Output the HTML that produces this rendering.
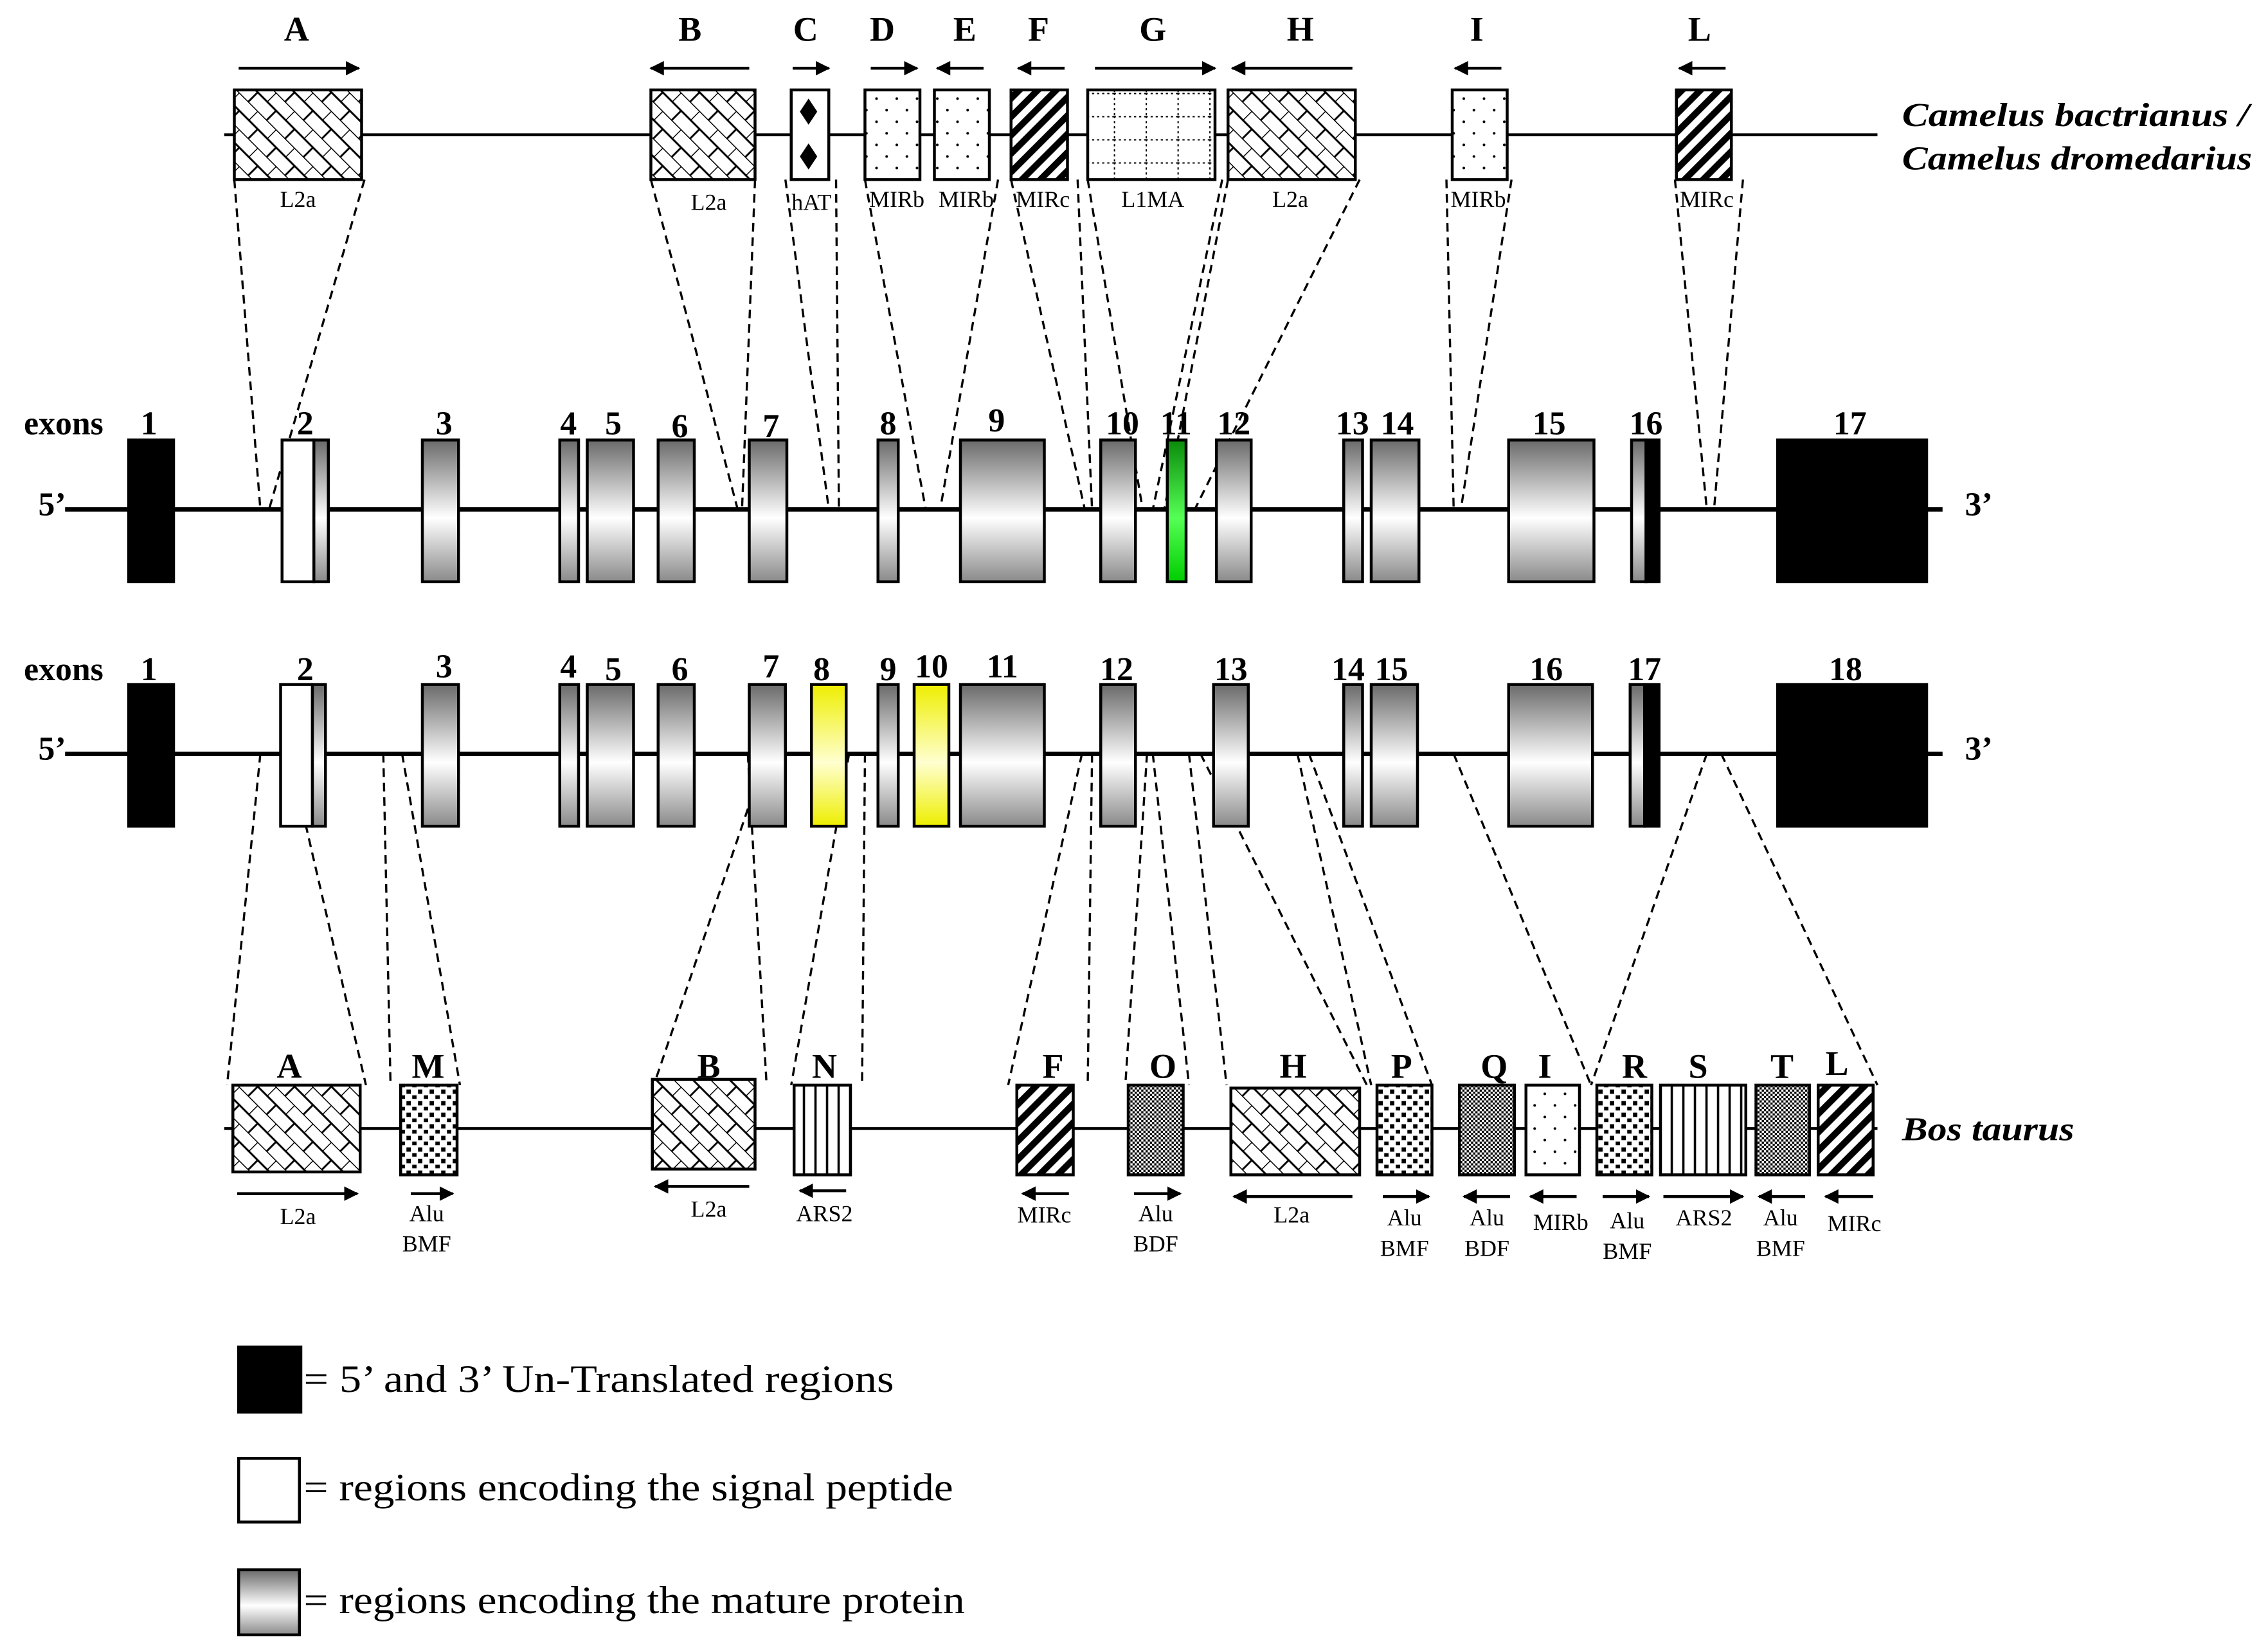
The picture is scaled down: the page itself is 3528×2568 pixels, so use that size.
<!DOCTYPE html>
<html><head><meta charset="utf-8"><style>html,body{margin:0;padding:0;background:#fff}svg{display:block}</style></head>
<body>
<svg width="3528" height="2568" viewBox="0 0 1568 1141" xmlns="http://www.w3.org/2000/svg" font-family="Liberation Serif, serif">
<defs>
<linearGradient id="gr" x1="0" y1="0" x2="0" y2="1"><stop offset="0" stop-color="#6a6a6a"/><stop offset="0.55" stop-color="#fff"/><stop offset="1" stop-color="#8a8a8a"/></linearGradient>
<linearGradient id="gg" x1="0" y1="0" x2="0" y2="1"><stop offset="0" stop-color="#0a8a0a"/><stop offset="0.55" stop-color="#5f5"/><stop offset="1" stop-color="#0c0"/></linearGradient>
<linearGradient id="gy" x1="0" y1="0" x2="0" y2="1"><stop offset="0" stop-color="#ee0"/><stop offset="0.55" stop-color="#ffffd0"/><stop offset="1" stop-color="#ee0"/></linearGradient>
<pattern id="brick" width="18" height="18" patternUnits="userSpaceOnUse" patternTransform="rotate(45)"><rect width="18" height="18" fill="#fff"/><path d="M0 0H18M0 9H18M0 0V9M9 9V18" stroke="#000" stroke-width="1.3" fill="none"/></pattern>
<pattern id="stripe" width="9" height="9" patternUnits="userSpaceOnUse" patternTransform="rotate(45)"><rect width="9" height="9" fill="#fff"/><rect width="4.5" height="9" fill="#000"/></pattern>
<pattern id="sdots" width="14" height="16" patternUnits="userSpaceOnUse"><rect width="14" height="16" fill="#fff"/><circle cx="4" cy="4" r="0.9"/><circle cx="11" cy="12" r="0.9"/></pattern>
<pattern id="ddots" width="8" height="8" patternUnits="userSpaceOnUse"><rect width="8" height="8" fill="#fff"/><rect x="1" y="1" width="3" height="3"/><rect x="5" y="5" width="3" height="2.5"/></pattern>
<pattern id="check" width="3" height="3" patternUnits="userSpaceOnUse"><rect width="3" height="3" fill="#fff"/><rect width="1.5" height="1.5" fill="#000"/><rect x="1.5" y="1.5" width="1.5" height="1.5" fill="#000"/></pattern>
<pattern id="vline" width="8" height="10" patternUnits="userSpaceOnUse"><rect width="8" height="10" fill="#fff"/><rect x="3" width="1.6" height="10" fill="#000"/></pattern>
<pattern id="grid" width="22" height="16" patternUnits="userSpaceOnUse"><rect width="22" height="16" fill="#fff"/><path d="M0 0.5H22M0.5 0V16" stroke="#000" stroke-width="0.9" stroke-dasharray="1.5 2" fill="none"/></pattern>
<pattern id="hat" width="26" height="31" patternUnits="userSpaceOnUse"><rect width="26" height="31" fill="#fff"/><path d="M13 6 L19 15 L13 24 L7 15Z" fill="#000"/></pattern>
<marker id="ah" markerWidth="10" markerHeight="10" refX="9" refY="5" orient="auto" markerUnits="userSpaceOnUse"><path d="M0 0 L10 5 L0 10 Z" fill="#000"/></marker>
</defs>
<g stroke="#000" fill="none" stroke-width="2">
<line x1="155" y1="93" x2="1298" y2="93"/>
<line x1="45" y1="352" x2="1343" y2="352" stroke-width="3"/>
<line x1="45" y1="521" x2="1343" y2="521" stroke-width="3"/>
<line x1="155" y1="780" x2="1298" y2="780"/>
</g>
<g stroke="#000" stroke-width="1.5" stroke-dasharray="6 4" fill="none">
<path d="M162 124L180 352M252 124L186 352"/>
<path d="M450 124L510 352M522 124L513 352"/>
<path d="M543 124L573 352M578 124L580 352"/>
<path d="M598 124L640 352M690 124L650 352"/>
<path d="M699 124L750 352M745 124L755 352"/>
<path d="M752 124L790 352M845 124L797 352"/>
<path d="M849 124L805 352M940 124L826 352"/>
<path d="M1000 124L1005 352M1045 124L1010 352"/>
<path d="M1158 124L1180 352M1205 124L1185 352"/>
<path d="M180 521L157 750M200 521L253 750"/>
<path d="M265 521L270 750M278 521L318 750"/>
<path d="M530 521L452 750M517 521L530 750"/>
<path d="M587 521L547 750M598 521L596 750"/>
<path d="M748 521L697 750M755 521L752 750"/>
<path d="M793 521L778 750M797 521L822 750"/>
<path d="M822 521L848 750M830 521L945 750"/>
<path d="M897 521L948 750M905 521L990 750"/>
<path d="M1005 521L1100 750"/>
<path d="M1180 521L1100 750M1190 521L1298 750"/>
</g>
<g stroke="#000" stroke-width="2">
<rect x="162" y="62" width="88" height="62" fill="url(#brick)"/>
<rect x="450" y="62" width="72" height="62" fill="url(#brick)"/>
<rect x="547" y="62" width="26" height="62" fill="url(#hat)"/>
<rect x="598" y="62" width="38" height="62" fill="url(#sdots)"/>
<rect x="646" y="62" width="38" height="62" fill="url(#sdots)"/>
<rect x="699" y="62" width="39" height="62" fill="url(#stripe)"/>
<rect x="752" y="62" width="88" height="62" fill="url(#grid)"/>
<rect x="849" y="62" width="88" height="62" fill="url(#brick)"/>
<rect x="1004" y="62" width="38" height="62" fill="url(#sdots)"/>
<rect x="1159" y="62" width="38" height="62" fill="url(#stripe)"/>
</g>
<g stroke="#000" stroke-width="2" marker-end="url(#ah)">
<line x1="165" y1="47" x2="248" y2="47"/>
<line x1="518" y1="47" x2="450" y2="47"/>
<line x1="548" y1="47" x2="573" y2="47"/>
<line x1="602" y1="47" x2="634" y2="47"/>
<line x1="680" y1="47" x2="648" y2="47"/>
<line x1="736" y1="47" x2="704" y2="47"/>
<line x1="757" y1="47" x2="840" y2="47"/>
<line x1="935" y1="47" x2="852" y2="47"/>
<line x1="1038" y1="47" x2="1006" y2="47"/>
<line x1="1193" y1="47" x2="1161" y2="47"/>
</g>
<g font-weight="bold" font-size="24" text-anchor="middle">
<text x="205" y="28">A</text><text x="477" y="28">B</text><text x="557" y="28">C</text><text x="610" y="28">D</text><text x="667" y="28">E</text><text x="718" y="28">F</text><text x="797" y="28">G</text><text x="899" y="28">H</text><text x="1021" y="28">I</text><text x="1175" y="28">L</text>
</g>
<g font-size="16" text-anchor="middle">
<text x="206" y="143">L2a</text><text x="490" y="145">L2a</text><text x="561" y="145">hAT</text><text x="620" y="143">MIRb</text><text x="668" y="143">MIRb</text><text x="721" y="143">MIRc</text><text x="797" y="143">L1MA</text><text x="892" y="143">L2a</text><text x="1022" y="143">MIRb</text><text x="1180" y="143">MIRc</text>
</g>
<g font-weight="bold" font-style="italic" font-size="23">
<text x="1315" y="87" textLength="240" lengthAdjust="spacingAndGlyphs">Camelus bactrianus /</text>
<text x="1315" y="117" textLength="242" lengthAdjust="spacingAndGlyphs">Camelus dromedarius</text>
<text x="1315" y="788" textLength="119" lengthAdjust="spacingAndGlyphs">Bos taurus</text>
</g>
<g stroke="#000" stroke-width="2">
<rect x="89" y="304" width="31" height="98" fill="#000"/>
<rect x="195" y="304" width="22" height="98" fill="#fff"/><rect x="217" y="304" width="10" height="98" fill="url(#gr)"/>
<rect x="292" y="304" width="25" height="98" fill="url(#gr)"/>
<rect x="387" y="304" width="13" height="98" fill="url(#gr)"/>
<rect x="406" y="304" width="32" height="98" fill="url(#gr)"/>
<rect x="455" y="304" width="25" height="98" fill="url(#gr)"/>
<rect x="518" y="304" width="26" height="98" fill="url(#gr)"/>
<rect x="607" y="304" width="14" height="98" fill="url(#gr)"/>
<rect x="664" y="304" width="58" height="98" fill="url(#gr)"/>
<rect x="761" y="304" width="24" height="98" fill="url(#gr)"/>
<rect x="807" y="304" width="13" height="98" fill="url(#gg)"/>
<rect x="841" y="304" width="24" height="98" fill="url(#gr)"/>
<rect x="929" y="304" width="13" height="98" fill="url(#gr)"/>
<rect x="948" y="304" width="33" height="98" fill="url(#gr)"/>
<rect x="1043" y="304" width="59" height="98" fill="url(#gr)"/>
<rect x="1128" y="304" width="10" height="98" fill="url(#gr)"/><rect x="1138" y="304" width="9" height="98" fill="#000"/>
<rect x="1229" y="304" width="103" height="98" fill="#000"/>
</g>
<g font-weight="bold" font-size="23" text-anchor="middle">
<text x="44" y="300">exons</text><text x="36" y="356">5’</text><text x="1368" y="356">3’</text>
<text x="103" y="300">1</text><text x="211" y="300">2</text><text x="307" y="300">3</text><text x="393" y="300">4</text><text x="424" y="300">5</text><text x="470" y="302">6</text><text x="533" y="302">7</text><text x="614" y="300">8</text><text x="689" y="298">9</text><text x="776" y="300">10</text><text x="813" y="300">11</text><text x="853" y="300">12</text><text x="935" y="300">13</text><text x="966" y="300">14</text><text x="1071" y="300">15</text><text x="1138" y="300">16</text><text x="1279" y="300">17</text>
</g>
<g stroke="#000" stroke-width="2">
<rect x="89" y="473" width="31" height="98" fill="#000"/>
<rect x="194" y="473" width="22" height="98" fill="#fff"/><rect x="216" y="473" width="9" height="98" fill="url(#gr)"/>
<rect x="292" y="473" width="25" height="98" fill="url(#gr)"/>
<rect x="387" y="473" width="13" height="98" fill="url(#gr)"/>
<rect x="406" y="473" width="32" height="98" fill="url(#gr)"/>
<rect x="455" y="473" width="25" height="98" fill="url(#gr)"/>
<rect x="518" y="473" width="25" height="98" fill="url(#gr)"/>
<rect x="561" y="473" width="24" height="98" fill="url(#gy)"/>
<rect x="607" y="473" width="14" height="98" fill="url(#gr)"/>
<rect x="632" y="473" width="24" height="98" fill="url(#gy)"/>
<rect x="664" y="473" width="58" height="98" fill="url(#gr)"/>
<rect x="761" y="473" width="24" height="98" fill="url(#gr)"/>
<rect x="839" y="473" width="24" height="98" fill="url(#gr)"/>
<rect x="929" y="473" width="13" height="98" fill="url(#gr)"/>
<rect x="948" y="473" width="32" height="98" fill="url(#gr)"/>
<rect x="1043" y="473" width="58" height="98" fill="url(#gr)"/>
<rect x="1127" y="473" width="10" height="98" fill="url(#gr)"/><rect x="1137" y="473" width="10" height="98" fill="#000"/>
<rect x="1229" y="473" width="103" height="98" fill="#000"/>
</g>
<g font-weight="bold" font-size="23" text-anchor="middle">
<text x="44" y="470">exons</text><text x="36" y="525">5’</text><text x="1368" y="525">3’</text>
<text x="103" y="470">1</text><text x="211" y="470">2</text><text x="307" y="468">3</text><text x="393" y="468">4</text><text x="424" y="470">5</text><text x="470" y="470">6</text><text x="533" y="468">7</text><text x="568" y="470">8</text><text x="614" y="470">9</text><text x="644" y="468">10</text><text x="693" y="468">11</text><text x="772" y="470">12</text><text x="851" y="470">13</text><text x="932" y="470">14</text><text x="962" y="470">15</text><text x="1069" y="470">16</text><text x="1137" y="470">17</text><text x="1276" y="470">18</text>
</g>
<g stroke="#000" stroke-width="2">
<rect x="161" y="750" width="88" height="60" fill="url(#brick)"/>
<rect x="277" y="750" width="39" height="62" fill="url(#ddots)"/>
<rect x="451" y="746" width="71" height="62" fill="url(#brick)"/>
<rect x="549" y="750" width="39" height="62" fill="url(#vline)"/>
<rect x="703" y="750" width="39" height="62" fill="url(#stripe)"/>
<rect x="780" y="750" width="38" height="62" fill="url(#check)"/>
<rect x="851" y="752" width="89" height="60" fill="url(#brick)"/>
<rect x="952" y="750" width="38" height="62" fill="url(#ddots)"/>
<rect x="1009" y="750" width="38" height="62" fill="url(#check)"/>
<rect x="1055" y="750" width="37" height="62" fill="url(#sdots)"/>
<rect x="1104" y="750" width="38" height="62" fill="url(#ddots)"/>
<rect x="1148" y="750" width="59" height="62" fill="url(#vline)"/>
<rect x="1214" y="750" width="37" height="62" fill="url(#check)"/>
<rect x="1257" y="750" width="38" height="62" fill="url(#stripe)"/>
</g>
<g stroke="#000" stroke-width="2" marker-end="url(#ah)">
<line x1="164" y1="825" x2="247" y2="825"/>
<line x1="284" y1="825" x2="313" y2="825"/>
<line x1="518" y1="820" x2="453" y2="820"/>
<line x1="585" y1="823" x2="553" y2="823"/>
<line x1="739" y1="825" x2="707" y2="825"/>
<line x1="784" y1="825" x2="816" y2="825"/>
<line x1="935" y1="827" x2="853" y2="827"/>
<line x1="956" y1="827" x2="988" y2="827"/>
<line x1="1044" y1="827" x2="1012" y2="827"/>
<line x1="1090" y1="827" x2="1058" y2="827"/>
<line x1="1108" y1="827" x2="1140" y2="827"/>
<line x1="1150" y1="827" x2="1205" y2="827"/>
<line x1="1248" y1="827" x2="1216" y2="827"/>
<line x1="1295" y1="827" x2="1262" y2="827"/>
</g>
<g font-weight="bold" font-size="24" text-anchor="middle">
<text x="200" y="745">A</text><text x="296" y="745">M</text><text x="490" y="745">B</text><text x="570" y="745">N</text><text x="728" y="745">F</text><text x="804" y="745">O</text><text x="894" y="745">H</text><text x="969" y="745">P</text><text x="1033" y="745">Q</text><text x="1068" y="745">I</text><text x="1130" y="745">R</text><text x="1174" y="745">S</text><text x="1232" y="745">T</text><text x="1270" y="743">L</text>
</g>
<g font-size="16" text-anchor="middle">
<text x="206" y="846">L2a</text>
<text x="295" y="844">Alu</text><text x="295" y="865">BMF</text>
<text x="490" y="841">L2a</text>
<text x="570" y="844">ARS2</text>
<text x="722" y="845">MIRc</text>
<text x="799" y="844">Alu</text><text x="799" y="865">BDF</text>
<text x="893" y="845">L2a</text>
<text x="971" y="847">Alu</text><text x="971" y="868">BMF</text>
<text x="1028" y="847">Alu</text><text x="1028" y="868">BDF</text>
<text x="1079" y="850">MIRb</text>
<text x="1125" y="849">Alu</text><text x="1125" y="870">BMF</text>
<text x="1178" y="847">ARS2</text>
<text x="1231" y="847">Alu</text><text x="1231" y="868">BMF</text>
<text x="1282" y="851">MIRc</text>
</g>
<rect x="165" y="931" width="43" height="45" fill="#000" stroke="#000" stroke-width="2"/>
<rect x="165" y="1008" width="42" height="44" fill="#fff" stroke="#000" stroke-width="2"/>
<rect x="165" y="1085" width="42" height="45" fill="url(#gr)" stroke="#000" stroke-width="2"/>
<g font-size="27">
<text x="210" y="962" textLength="408" lengthAdjust="spacingAndGlyphs">= 5’ and 3’ Un-Translated regions</text>
<text x="210" y="1037" textLength="449" lengthAdjust="spacingAndGlyphs">= regions encoding the signal peptide</text>
<text x="210" y="1115" textLength="457" lengthAdjust="spacingAndGlyphs">= regions encoding the mature protein</text>
</g>
</svg>
</body></html>
